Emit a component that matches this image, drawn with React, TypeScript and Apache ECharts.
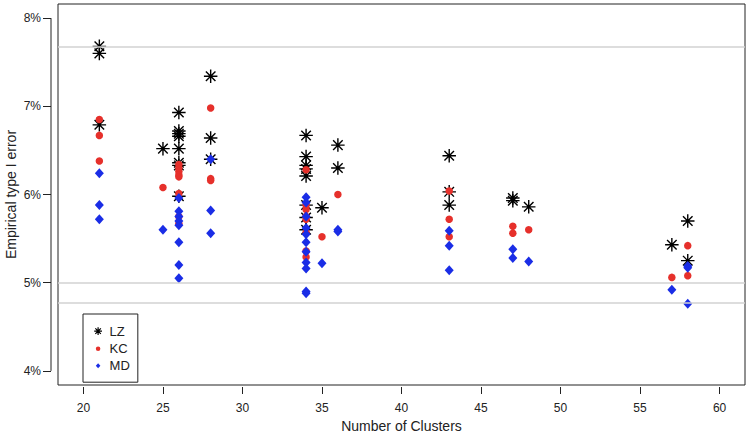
import React, { useEffect, useRef } from "react";
import * as echarts from "echarts";

// Number of clusters at which each setting was evaluated
const clusters = [21, 25, 26, 28, 34, 35, 36, 43, 47, 48, 57, 58];

// Empirical type I error (%) for each method, one list per cluster count
const lzValues = [
  [7.68, 7.6, 6.79],
  [6.52],
  [6.93, 6.72, 6.69, 6.66, 6.52, 6.36, 6.33, 5.98],
  [7.34, 6.64, 6.4],
  [6.67, 6.43, 6.33, 6.29, 6.21, 5.88, 5.74, 5.6],
  [5.85],
  [6.56, 6.3],
  [6.44, 6.03, 5.88],
  [5.96, 5.93],
  [5.86],
  [5.43],
  [5.7, 5.25],
];
const kcValues = [
  [6.85, 6.67, 6.38],
  [6.08],
  [6.34, 6.3, 6.26, 6.22, 6.2, 6.01, 5.75, 5.67],
  [6.98, 6.18, 6.16],
  [6.28, 5.88, 5.83, 5.75, 5.72, 5.57, 5.36, 5.29],
  [5.52],
  [6.0],
  [6.04, 5.72, 5.52],
  [5.64, 5.56],
  [5.6],
  [5.06],
  [5.42, 5.08],
];
const mdValues = [
  [6.24, 5.88, 5.72],
  [5.6],
  [5.96, 5.81, 5.75, 5.7, 5.65, 5.46, 5.2, 5.05],
  [6.4, 5.82, 5.56],
  [5.97, 5.91, 5.75, 5.62, 5.55, 5.46, 5.35, 5.23, 5.16, 4.9, 4.88],
  [5.22],
  [5.6, 5.58],
  [5.59, 5.42, 5.14],
  [5.38, 5.28],
  [5.24],
  [4.92],
  [5.19, 5.17, 4.76],
];

// Horizontal reference lines (%)
const refLines = [7.68, 5.0, 4.77];

const xTicks = [20, 25, 30, 35, 40, 45, 50, 55, 60];
const yTicks = [4, 5, 6, 7, 8];
const yTitle = "Empirical type I error";
const xTitle = "Number of Clusters";

const toPoints = (vals: number[][]) =>
  clusters.flatMap((c, i) => vals[i].map((v) => [c, v]));

const FONT = "'Liberation Sans', Arial, Helvetica, sans-serif";
const STAR =
  "path://M0,-10L0,10M-10,0L10,0M-7.07,-7.07L7.07,7.07M-7.07,7.07L7.07,-7.07";
const STAR_LEG =
  "path://M-10,-10M10,10M0,-6L0,6M-6,0L6,0M-4.24,-4.24L4.24,4.24M-4.24,4.24L4.24,-4.24";
const DOT_LEG =
  "path://M-10,-10M10,10M-3.5,0A3.5,3.5,0,1,1,3.5,0A3.5,3.5,0,1,1,-3.5,0Z";
const DIA_LEG = "path://M-10,-10M10,10M0,-3.8L3.5,0L0,3.8L-3.5,0Z";

const RED = "#e6302b";
const BLUE = "#1a2de6";
const INK = "#222222";

export default function App() {
  const ref = useRef<HTMLDivElement>(null);
  useEffect(() => {
    document.body.style.margin = "0";
    if (!ref.current) return;
    const chart = echarts.init(ref.current, null, { renderer: "svg" });
    const xMin = 18.4;
    const xMax = 61.6;
    const yMin = 3.84;
    const yMax = 8.16;
    chart.setOption({
      animation: false,
      textStyle: { fontFamily: FONT },
      grid: {
        left: 58,
        right: 4,
        top: 4,
        bottom: 49,
        show: true,
        borderColor: INK,
        borderWidth: 1,
        backgroundColor: "transparent",
        containLabel: false,
        outerBoundsMode: "none",
      },
      xAxis: {
        type: "value",
        min: xMin,
        max: xMax,
        offset: 2,
        splitLine: { show: false },
        axisLine: { show: false },
        axisTick: {
          show: true,
          length: 7,
          customValues: xTicks,
          lineStyle: { color: INK, width: 1 },
        },
        axisLabel: {
          customValues: xTicks,
          margin: 15,
          fontSize: 12,
          color: INK,
          fontFamily: FONT,
        },
        name: xTitle,
        nameLocation: "middle",
        nameGap: 31,
        nameTextStyle: { fontSize: 14, color: INK, fontFamily: FONT },
      },
      yAxis: {
        type: "value",
        min: yMin,
        max: yMax,
        offset: 7,
        splitLine: { show: false },
        axisLine: { show: false },
        axisTick: {
          show: true,
          length: 8,
          customValues: yTicks,
          lineStyle: { color: INK, width: 1 },
        },
        axisLabel: {
          customValues: yTicks,
          margin: 10,
          fontSize: 12,
          color: INK,
          fontFamily: FONT,
          formatter: (v: number) => `${Math.round(v)}%`,
        },
      },
      legend: {
        orient: "vertical",
        left: 83,
        top: 314,
        padding: [10, 8, 10, 8],
        itemGap: 4,
        itemWidth: 13,
        itemHeight: 13,
        borderColor: INK,
        borderWidth: 1,
        backgroundColor: "#ffffff",
        selectedMode: false,
        textStyle: { fontSize: 13, color: INK, fontFamily: FONT },
        data: [
          {
            name: "LZ",
            icon: STAR_LEG,
            itemStyle: { color: "#000", borderColor: "#000", borderWidth: 1.2 },
          },
          {
            name: "KC",
            icon: DOT_LEG,
            itemStyle: { color: RED, borderColor: RED, borderWidth: 0 },
          },
          {
            name: "MD",
            icon: DIA_LEG,
            itemStyle: { color: BLUE, borderColor: BLUE, borderWidth: 0 },
          },
        ],
      },
      series: [
        {
          name: "LZ",
          type: "scatter",
          data: toPoints(lzValues),
          symbol: STAR,
          symbolSize: 13.5,
          itemStyle: { color: "#000", borderColor: "#000", borderWidth: 1.4, opacity: 1 },
          emphasis: { disabled: true },
          markLine: {
            silent: true,
            symbol: ["none", "none"],
            label: { show: false },
            lineStyle: { color: "#d2d2d2", width: 1.5, type: "solid" },
            emphasis: { disabled: true },
            data: refLines.map((v) => ({ yAxis: v })),
          },
          z: 2,
        },
        {
          name: "KC",
          type: "scatter",
          data: toPoints(kcValues),
          symbol: "circle",
          symbolSize: 7.5,
          itemStyle: { color: RED, opacity: 1 },
          emphasis: { disabled: true },
          z: 3,
        },
        {
          name: "MD",
          type: "scatter",
          data: toPoints(mdValues),
          symbol: "diamond",
          symbolSize: [9, 10],
          itemStyle: { color: BLUE, opacity: 1 },
          emphasis: { disabled: true },
          z: 4,
        },
      ],
    });

    // R-style left axis line running only from first to last tick, plus y title
    const pLow = chart.convertToPixel({ gridIndex: 0 }, [xMin, yTicks[0]]);
    const pHigh = chart.convertToPixel({ gridIndex: 0 }, [xMin, yTicks[yTicks.length - 1]]);
    const pBot = chart.convertToPixel({ gridIndex: 0 }, [xMin, yMin]);
    const pTop = chart.convertToPixel({ gridIndex: 0 }, [xMin, yMax]);
    if (pLow && pHigh && pBot && pTop) {
      const ax = pLow[0] - 7;
      chart.setOption({
        graphic: [
          {
            type: "line",
            shape: { x1: ax, y1: pLow[1], x2: ax, y2: pHigh[1] },
            style: { stroke: INK, lineWidth: 1 },
            silent: true,
          },
          {
            type: "text",
            x: 11,
            y: (pBot[1] + pTop[1]) / 2,
            rotation: Math.PI / 2,
            silent: true,
            style: {
              text: yTitle,
              fontSize: 14,
              fontFamily: FONT,
              fill: INK,
              align: "center",
              verticalAlign: "middle",
            },
          },
        ],
      });
    }
    return () => chart.dispose();
  }, []);
  return <div ref={ref} style={{ width: 749, height: 434 }} />;
}
